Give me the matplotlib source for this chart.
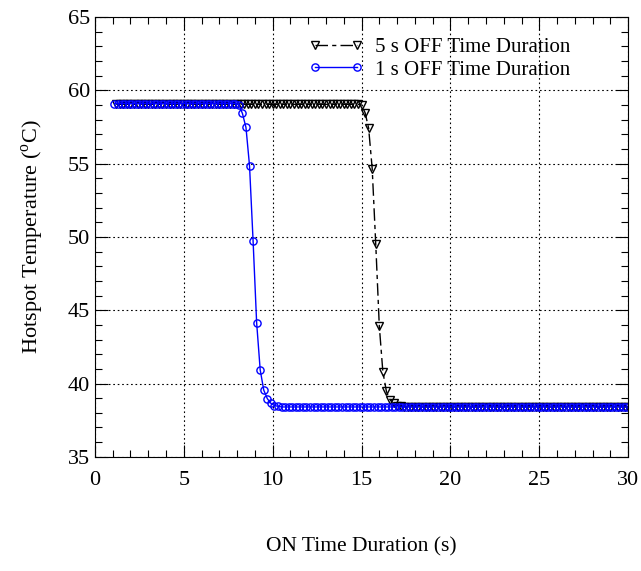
import numpy as np
import matplotlib
matplotlib.use('Agg')
import matplotlib.pyplot as plt
from matplotlib.ticker import MultipleLocator

plt.rcParams['font.family'] = ['Liberation Serif', 'DejaVu Serif']
plt.rcParams['mathtext.fontset'] = 'custom'
plt.rcParams['mathtext.rm'] = 'Liberation Serif'

# time samples (s)
t_1s = np.arange(1.1, 30.0, 0.2)
t_5s = np.arange(1.2, 30.05, 0.2)

# 1 s OFF: flat high, drop around 8-10 s, flat low
temp_1s_drop = [59.0, 58.43, 57.47, 54.86, 49.74, 44.15, 40.93, 39.55, 38.97, 38.65, 38.5, 38.45]
n_high_1s = 35
temp_1s = [59.1] * n_high_1s + temp_1s_drop
temp_1s = temp_1s + [38.4] * (len(t_1s) - len(temp_1s))

# 5 s OFF: flat high, drop around 15-17 s, flat low
temp_5s_drop = [59.0, 58.48, 57.42, 54.67, 49.51, 43.92, 40.8, 39.46, 38.9, 38.65, 38.5, 38.45]
n_high_5s = 69
temp_5s = [59.05] * n_high_5s + temp_5s_drop
temp_5s = temp_5s + [38.4] * (len(t_5s) - len(temp_5s))

fig = plt.figure(figsize=(6.41, 5.71), dpi=100)
ax = fig.add_axes([0.148, 0.2, 0.832, 0.77])

ax.plot(t_5s, temp_5s, color='black', lw=1.0, dashes=(9, 3, 3, 3),
        marker='v', ms=5.2, mfc='none', mec='black', mew=1.0,
        label='5 s OFF Time Duration')
ax.plot(t_1s, temp_1s, color='blue', lw=1.0,
        marker='o', ms=5.2, mfc='none', mec='blue', mew=1.0,
        label='1 s OFF Time Duration')

ax.set_xlim(0, 30)
ax.set_ylim(35, 65)
ax.xaxis.set_major_locator(MultipleLocator(5))
ax.xaxis.set_minor_locator(MultipleLocator(1))
ax.yaxis.set_major_locator(MultipleLocator(5))
ax.yaxis.set_minor_locator(MultipleLocator(1))
ax.tick_params(which='both', direction='in', top=True, right=True, labelsize=16)
ax.tick_params(which='major', length=9, width=0.8)
ax.tick_params(which='minor', length=5, width=0.8)
ax.tick_params(axis='x', pad=10)
ax.grid(True, which='major', color='black', linestyle=(0, (1.5, 2.5)), linewidth=0.8)

ax.set_xlabel('ON Time Duration (s)', fontsize=15.5, labelpad=34)
ax.set_ylabel(r'Hotspot Temperature ($^{\rm o}$C)', fontsize=16, labelpad=16)

ax.legend(loc='upper right', frameon=False, fontsize=15, numpoints=2,
          handlelength=2.6, handletextpad=0.6, labelspacing=0.15,
          borderaxespad=0.0, bbox_to_anchor=(0.908, 0.973))

plt.savefig('out.png', dpi=100)
